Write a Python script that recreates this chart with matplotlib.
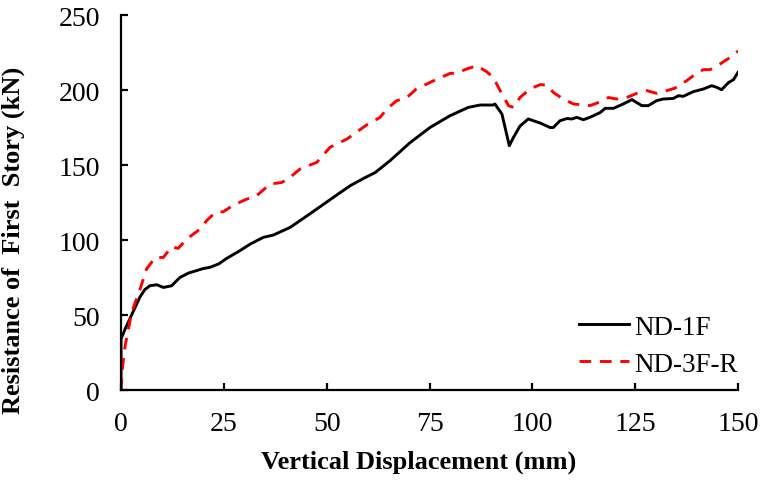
import matplotlib.pyplot as plt

plt.rcParams['font.family'] = 'Liberation Serif'

# ND-1F (solid black)
x_1f = [0, 0, 1.0, 2.9, 4.6, 5.8, 7.0, 8.7, 10.3, 12.3, 14.3, 16.4, 20.0, 21.6, 23.7, 25.7,
        28.9, 31.4, 34.6, 37.0, 41.1, 44.3, 47.6, 51.6, 55.7, 58.9, 61.8, 65.4, 70.3, 75.1,
        80.0, 84.4, 87.3, 90.5, 90.9, 92.6, 94.4, 95.4, 97.0, 99.0, 101.9, 104.3, 105.1,
        106.7, 108.4, 109.6, 110.8, 112.4, 114.0, 116.5, 117.7, 119.7, 122.1, 124.2, 126.6,
        128.2, 130.2, 131.8, 134.3, 135.5, 136.7, 139.1, 141.6, 143.6, 144.8, 146.0, 147.7,
        148.9, 150.0]
y_1f = [0, 34, 40.7, 52, 62, 67, 69.5, 70.2, 68.4, 69.5, 75, 78, 81, 81.8, 84, 87.8,
        92.9, 97.3, 101.8, 103.3, 108.4, 114.4, 120.7, 128.4, 136.2, 141, 145, 152.9, 165, 175,
        182.9, 188.4, 190, 190, 190.7, 184, 162.9, 168.4, 176, 180.7, 178, 175, 175,
        179.5, 181, 180.7, 181.8, 180.2, 181.8, 185, 187.8, 187.8, 190.7, 193.6, 189.6,
        189.6, 192.9, 194, 194.4, 196.2, 195.8, 198.9, 200.7, 202.9, 201.8, 200.2, 205,
        206.9, 211.8]

# ND-3F-R (dashed red)
x_3f = [0, 0.4, 1.0, 2.6, 4.6, 6.2, 8.3, 10.3, 12.3, 13.9, 16.0, 19.2, 20.8, 22.9, 24.9,
        27.3, 30.6, 33.0, 36.2, 39.1, 41.1, 43.5, 47.6, 50.8, 54.9, 59.7, 63.0, 64.6, 67.0,
        69.5, 71.8, 76.0, 80.0, 81.6, 84.0, 86.5, 88.9, 90.5, 92.6, 94.2, 95.4, 97.0, 99.4,
        101.9, 103.5, 105.1, 107.5, 110.0, 114.0, 115.7, 118.5, 120.5, 122.9, 125.4, 127.8,
        130.2, 132.7, 134.7, 137.5, 140.0, 141.6, 143.2, 145.6, 148.1, 150.0]
y_3f = [0, 16, 29.5, 51.8, 67, 80.7, 88.4, 88.4, 95.6, 94.4, 100.7, 107.3, 112.9, 118.4, 118.9,
        123.3, 127.3, 129.6, 137.3, 138.4, 141.8, 147.3, 151.8, 161.8, 167.3, 176.7, 181.8, 187.3, 192.9,
        195, 200.7, 206.2, 211.1, 211.3, 214, 216.2, 212.2, 208.4, 197.3, 189.6, 188.4, 195, 200.7,
        203.6, 203.3, 198.4, 194, 190.7, 189.6, 191.3, 195, 194, 195, 197.8, 199.6,
        197.8, 199.6, 201.3, 206.2, 211.3, 213.6, 213.6, 217.3, 221.8, 226]

fig = plt.figure(figsize=(7.64, 4.81), dpi=100)
ax = fig.add_axes([0.1584, 0.187, 0.8076, 0.7797])

ax.plot(x_1f, y_1f, color='black', lw=2.1, label='ND-1F')
ax.plot(x_3f, y_3f, color='red', lw=2.1, linestyle=(0, (4, 3)), label='ND-3F-R')

ax.set_xlim(0, 150)
ax.set_ylim(0, 250)
ax.set_xticks(range(0, 151, 25))
ax.set_yticks(range(0, 251, 50))
for s in ['top', 'right']:
    ax.spines[s].set_visible(False)
for s in ['left', 'bottom']:
    ax.spines[s].set_linewidth(1.6)
ax.tick_params(direction='in', length=5, width=1.6, labelsize=20, pad=15)

ax.set_xlabel('Vertical Displacement (mm)', fontsize=19, fontweight='bold')
ax.set_ylabel('Resistance of  First  Story (kN)', fontsize=19, fontweight='bold')
ax.xaxis.set_label_coords(0.482, -0.16)
ax.yaxis.set_label_coords(-0.155, 0.402)

ax.legend(loc='lower right', bbox_to_anchor=(1.039, -0.03), frameon=False, fontsize=19.5,
          handlelength=1.85, handletextpad=0.2, labelspacing=0.45)

fig.savefig('out.png', dpi=100)
